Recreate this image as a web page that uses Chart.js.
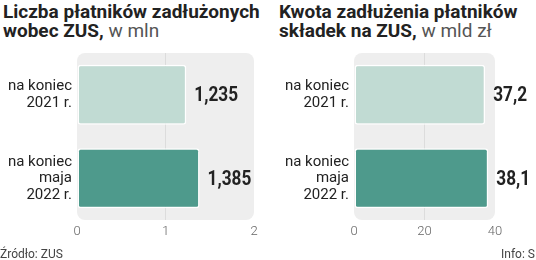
<!DOCTYPE html>
<html>
<head>
<meta charset="utf-8">
<script src="https://cdn.jsdelivr.net/npm/chart.js@4.4.0/dist/chart.umd.min.js"></script>
<style>
  html, body { margin: 0; padding: 0; background: #fff; }
  #wrap { position: relative; width: 536px; height: 260px; overflow: hidden; }
  .title {
    position: absolute; top: 2px;
    font-family: "Roboto", sans-serif;
    font-weight: bold; font-size: 19px; line-height: 19px; color: #222;
  }
  .title span { font-weight: normal; color: #555; }
  .note { position: absolute; top: 247px; font-family: "Roboto", sans-serif; font-size: 12px; color: #444; white-space: nowrap; }
  canvas { position: absolute; top: 0; }
</style>
</head>
<body>
<div id="wrap">
  <div class="title" style="left:3px">Liczba płatników zadłużonych<br>wobec ZUS, <span>w mln</span></div>
  <div class="title" style="left:279px">Kwota zadłużenia płatników<br>składek na ZUS, <span>w mld zł</span></div>
  <canvas id="count-chart" style="left:0"></canvas>
  <canvas id="debt-chart" style="left:268px"></canvas>
  <div class="note" style="left:0">Źródło: ZUS</div>
  <div class="note" style="left:501px">Info: S</div>
</div>
<script>
// data
const categories = [['na koniec', '2021 r.'], ['na koniec', 'maja', '2022 r.']];
const payersCount = [1.235, 1.385];   // mln
const debtAmount = [37.2, 38.1];      // mld zł
const countTicks = [0, 1, 2];
const debtTicks = [0, 20, 40];

const barColors = ['#c1dbd3', '#4e9a8c'];

// light gray rounded panel behind the bars
const panelBg = {
  id: 'panelBg',
  beforeDraw(c) {
    const a = c.chartArea;
    const ctx = c.ctx;
    ctx.save();
    ctx.fillStyle = '#eeeeee';
    ctx.beginPath();
    ctx.roundRect(a.left, a.top, a.right - a.left, a.bottom - a.top, 8);
    ctx.fill();
    ctx.restore();
  },
};

// bold values to the right of each bar (squeezed to look condensed)
const valueLabels = {
  id: 'valueLabels',
  afterDatasetsDraw(c, args, opts) {
    const ctx = c.ctx;
    const meta = c.getDatasetMeta(0);
    meta.data.forEach((bar, i) => {
      const v = c.data.datasets[0].data[i];
      const txt = v.toLocaleString('pl-PL', { minimumFractionDigits: opts.digits, maximumFractionDigits: opts.digits });
      ctx.save();
      ctx.translate(bar.x + 8, bar.y + 1);
      ctx.scale(0.82, 1);
      ctx.font = 'bold 21px Roboto, sans-serif';
      ctx.fillStyle = '#222';
      ctx.textBaseline = 'middle';
      ctx.fillText(txt, 0, 0);
      ctx.restore();
    });
  },
};

const makeChart = (id, data, tickValues, digits, padRight, leftWidth) => {
  const el = document.getElementById(id);
  el.width = 268;
  el.height = 260;
  return new Chart(el, {
    type: 'bar',
    data: {
      labels: categories,
      datasets: [{
        data: data,
        backgroundColor: barColors,
        borderColor: 'rgba(255,255,255,0.95)',
        borderWidth: 1.5,
        borderRadius: 3,
        borderSkipped: false,
        barPercentage: 0.72,
        categoryPercentage: 1,
      }],
    },
    options: {
      indexAxis: 'y',
      responsive: false,
      animation: false,
      devicePixelRatio: 1,
      layout: { padding: { top: 53, bottom: 10, left: 0, right: padRight } },
      scales: {
        x: {
          min: tickValues[0],
          max: tickValues[tickValues.length - 1],
          afterBuildTicks: (s) => { s.ticks = tickValues.map(v => ({ value: v })); },
          afterFit: (s) => { s.height = 30; },
          border: { display: false },
          grid: {
            drawTicks: false,
            color: (ctx) => (ctx.index === 1 ? '#dcdcdc' : 'rgba(0,0,0,0)'),
          },
          ticks: {
            padding: 4,
            color: '#666',
            font: { family: 'Roboto', size: 13, weight: '300' },
          },
        },
        y: {
          afterFit: (s) => { s.width = leftWidth; },
          border: { display: false },
          grid: { display: false, drawTicks: false },
          ticks: {
            padding: 5,
            color: '#222',
            font: { family: 'Roboto', size: 15, lineHeight: 1.1 },
          },
        },
      },
      plugins: {
        legend: { display: false },
        tooltip: { enabled: false },
        valueLabels: { digits: digits },
      },
    },
    plugins: [panelBg, valueLabels],
  });
};

makeChart('count-chart', payersCount, countTicks, 3, 14, 77);
makeChart('debt-chart', debtAmount, debtTicks, 1, 41, 86);
</script>
</body>
</html>
